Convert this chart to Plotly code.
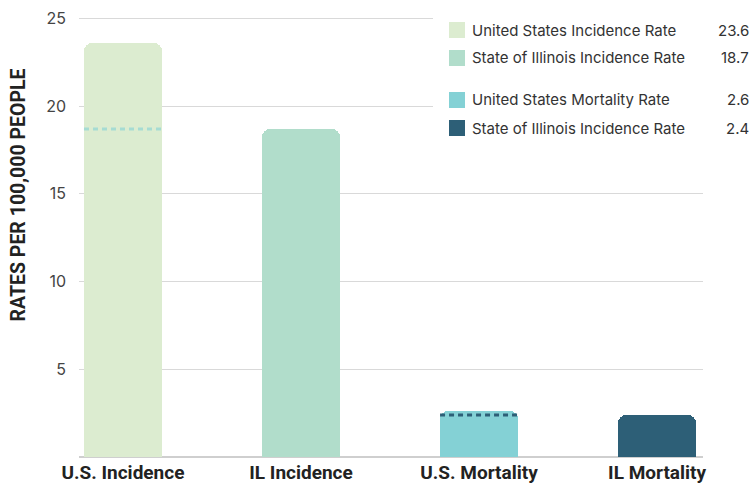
import plotly.graph_objects as go

categories = ["U.S. Incidence", "IL Incidence", "U.S. Mortality", "IL Mortality"]
values = [23.6, 18.7, 2.6, 2.4]
colors = ["#dcecd0", "#b1ddcb", "#84d1d5", "#2d5f77"]
legend_labels = ["United States Incidence Rate", "State of Illinois Incidence Rate",
                 "United States Mortality Rate", "State of Illinois Incidence Rate"]
legend_values = ["23.6", "18.7", "2.6", "2.4"]
# reference dashed markers: (bar index, value of comparison, colour)
ref_lines = [(0, 18.7, "#a6dcd3"), (2, 2.4, "#2d5f77")]
y_ticks = [5, 10, 15, 20, 25]
y_title = "RATES PER 100,000 PEOPLE"

W, H = 753, 485
L, R, T, B = 79, 50, 17, 28
pw, ph = W - L - R, H - T - B

def px(x):
    return (x - L) / pw

def py(y):
    return (H - B - y) / ph

xpos = list(range(len(categories)))
bw = 0.438

fig = go.Figure()
fig.add_trace(go.Bar(x=xpos, y=values, marker=dict(color=colors, line=dict(width=0), cornerradius=8),
                     width=bw, showlegend=False, hoverinfo="skip"))
for idx, v, c in ref_lines:
    fig.add_trace(go.Scatter(x=[idx - bw / 2, idx + bw / 2], y=[v, v], mode="lines",
                             line=dict(color=c, width=3, dash="5px,4px"), showlegend=False, hoverinfo="skip"))

shapes = [dict(type="rect", xref="paper", yref="paper", x0=px(433), x1=px(753), y0=py(142), y1=py(8),
               fillcolor="white", line=dict(width=0), layer="above")]
annotations = [dict(xref="paper", yref="paper", x=px(17.5), y=py(195), text=f"<b>{y_title}</b>",
                    textangle=-90, showarrow=False, xanchor="center", yanchor="middle",
                    font=dict(family="Roboto", size=19.5, color="#222222"))]
rows_y = [30, 58, 100, 128]
for i, (lab, val) in enumerate(zip(legend_labels, legend_values)):
    yc = rows_y[i]
    shapes.append(dict(type="rect", xref="paper", yref="paper", x0=px(449), x1=px(465),
                       y0=py(yc + 8), y1=py(yc - 8), fillcolor=colors[i], line=dict(width=0), layer="above"))
    annotations.append(dict(xref="paper", yref="paper", x=px(470), y=py(yc), text=lab, showarrow=False,
                            xanchor="left", yanchor="middle", font=dict(family="Inter", size=15, color="#333333")))
    annotations.append(dict(xref="paper", yref="paper", x=px(751), y=py(yc), text=val, showarrow=False,
                            xanchor="right", yanchor="middle", font=dict(family="Inter", size=15, color="#333333")))

fig.update_layout(
    width=W, height=H, margin=dict(l=L, r=R, t=T, b=B, autoexpand=False),
    paper_bgcolor="white", plot_bgcolor="white",
    xaxis=dict(range=[-0.247, 3.258], tickvals=xpos, ticktext=[f"<b>{c}</b>" for c in categories],
               tickfont=dict(family="Roboto", size=19, color="#222222"), showgrid=False, automargin=False,
               zeroline=False, showline=False, ticks="", ticklen=0, ticklabelstandoff=2),
    yaxis=dict(range=[0, 25.08], tickvals=y_ticks, showgrid=True, gridcolor="#d9d9d9", gridwidth=1,
               zeroline=True, zerolinecolor="#cfcfcf", zerolinewidth=2, automargin=False,
               tickfont=dict(family="Inter", size=16, color="#444444"), ticks="", ticklabelstandoff=12),
    shapes=shapes, annotations=annotations, bargap=0,
)
fig.write_html("out.html", config={"displayModeBar": False},
               post_script="document.body.style.margin='0';document.body.style.overflow='hidden';")
